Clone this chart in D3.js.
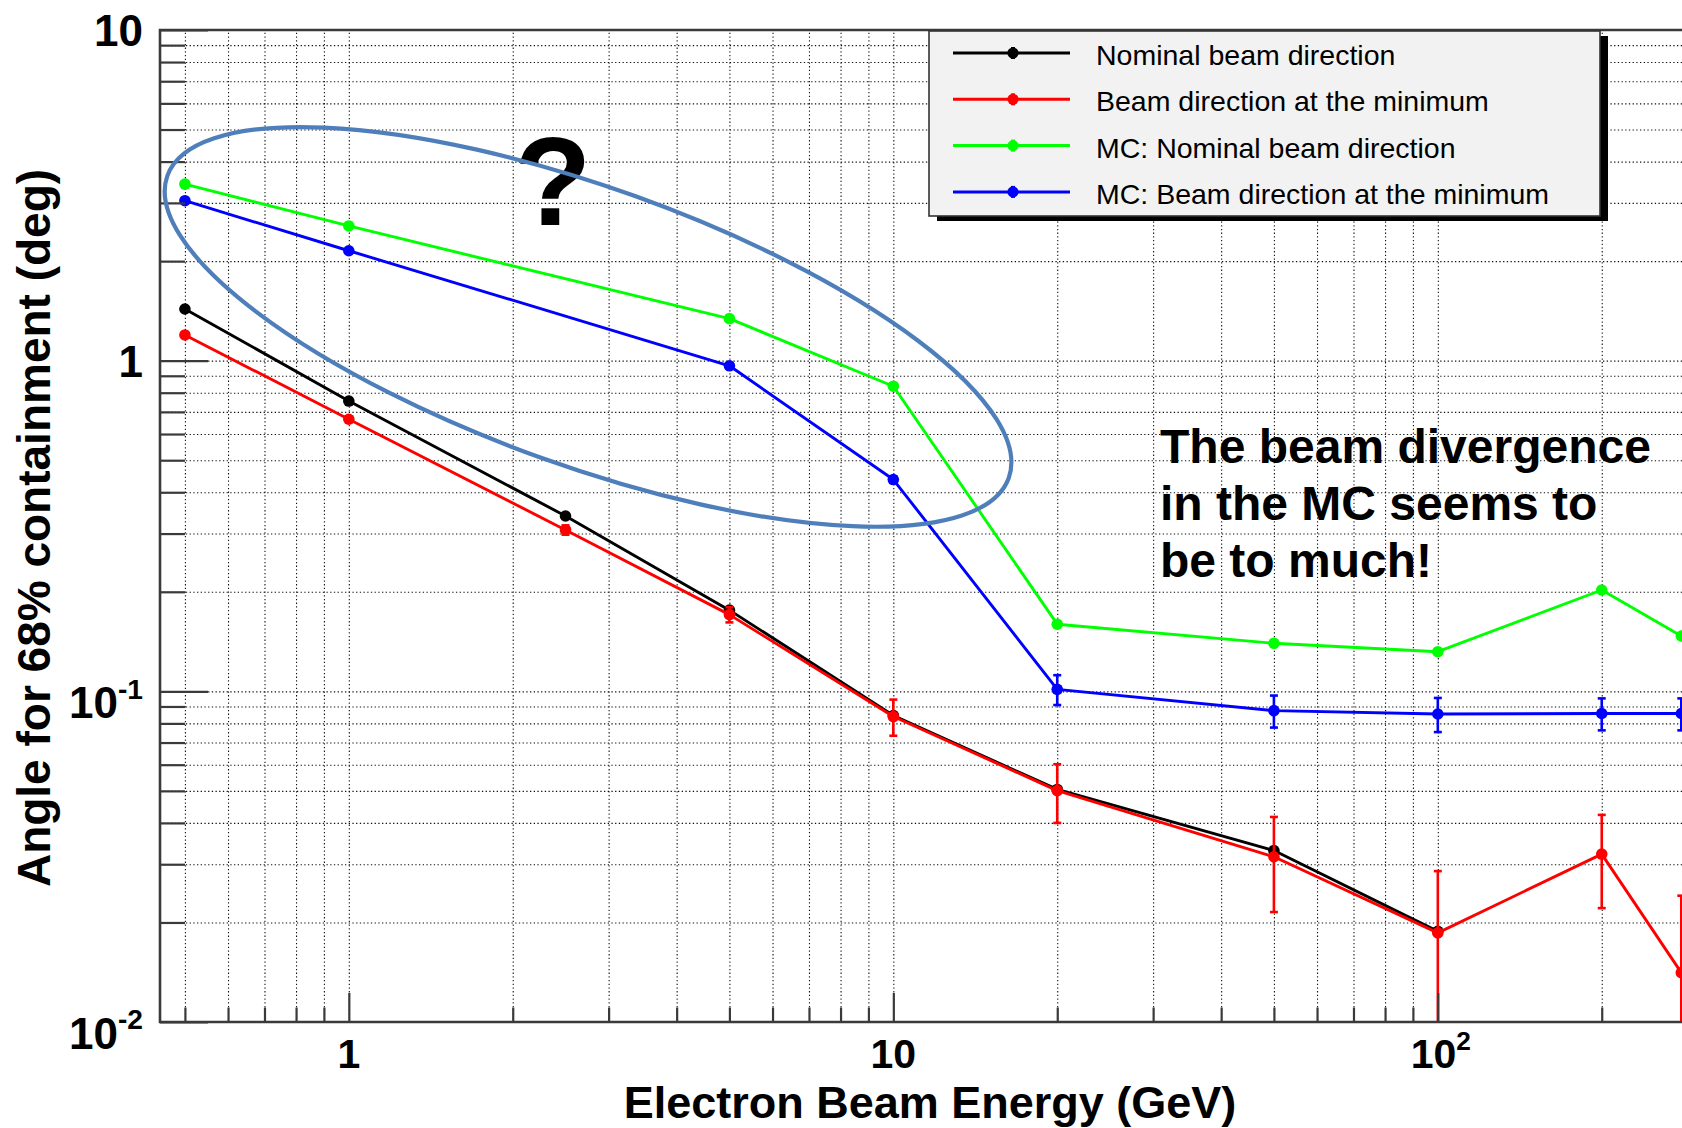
<!DOCTYPE html>
<html>
<head>
<meta charset="utf-8">
<script src="https://cdn.jsdelivr.net/npm/d3@7"></script>
<style>
  html, body { margin: 0; padding: 0; background: #ffffff; }
  svg { display: block; font-family: "Liberation Sans", Arial, Helvetica, sans-serif; }
</style>
</head>
<body>
<svg id="chart" width="1682" height="1128"></svg>
<script>
// ---- data: electron beam energy (GeV) and 68% containment angle (deg) ----
const beamEnergies = [0.5, 1, 2.5, 5, 10, 20, 50, 100, 200, 280];
const nominalAngle = [1.433, 0.755, 0.339, 0.176, 0.0845, 0.0505, 0.0330, 0.0188];
const nominalErr   = [0, 0, 0, 0, 0, 0, 0, 0];
const minimumAngle = [1.196, 0.665, 0.3076, 0.1706, 0.0839, 0.0501, 0.0316, 0.0186, 0.0322, 0.0141];
const minimumErr   = [0.01, 0.01, 0.01, 0.009, 0.0105, 0.0101, 0.0101, 0.01, 0.0101, 0.01];

const mcEnergies      = [0.5, 1, 5, 10, 20, 50, 100, 200, 280];
const mcNominalAngle  = [3.42, 2.555, 1.34, 0.837, 0.1596, 0.1397, 0.1318, 0.2025, 0.147];
const mcNominalErr    = [0, 0, 0, 0, 0, 0, 0, 0, 0];
const mcMinimumAngle  = [3.046, 2.15, 0.965, 0.437, 0.1014, 0.0874, 0.0854, 0.0857, 0.0857];
const mcMinimumErr    = [0.01, 0.01, 0.01, 0.01, 0.0105, 0.0097, 0.0101, 0.0095, 0.0095];

const seriesNames  = ["Nominal beam direction", "Beam direction at the minimum",
                      "MC: Nominal beam direction", "MC: Beam direction at the minimum"];
const seriesColors = ["#000000", "#ff0000", "#00ff00", "#0000ff"];

const xMajorTicks = [1, 10, 100];
const xTickBase   = ["1", "10", "10"];
const xTickSup    = ["", "", "2"];
const yMajorTicks = [0.01, 0.1, 1, 10];
const yTickBase   = ["10", "10", "1", "10"];
const yTickSup    = ["-2", "-1", "", ""];

const xTitle = "Electron Beam Energy (GeV)";
const yTitle = "Angle for 68% containment (deg)";
const noteLines = ["The beam divergence", "in the MC seems to", "be to much!"];

// ---- layout ----
const W = 1682, H = 1128;
const frame = { left: 160, top: 30, bottom: 1022 };
const xDecade = 544.5;
const xDomain = [0.45, 300];

const x = d3.scaleLog().domain(xDomain)
  .range([frame.left, frame.left + Math.log10(xDomain[1] / xDomain[0]) * xDecade]);
const y = d3.scaleLog().domain([0.01, 10]).range([frame.bottom, frame.top]);
const frameRight = x.range()[1];

const svg = d3.select("#chart");
svg.append("rect").attr("width", W).attr("height", H).attr("fill", "#fff");

svg.append("defs").append("clipPath").attr("id", "plotClip")
  .append("rect")
  .attr("x", frame.left).attr("y", frame.top)
  .attr("width", frameRight - frame.left).attr("height", frame.bottom - frame.top);

// ---- dotted grid at every decade subdivision ----
const xAll = x.ticks();
const yAll = y.ticks();
const grid = svg.append("g").attr("clip-path", "url(#plotClip)");
grid.append("g")
  .attr("transform", `translate(0,${frame.bottom})`)
  .call(d3.axisBottom(x).tickValues(xAll).tickSize(-(frame.bottom - frame.top)).tickFormat(""))
  .call(g => g.select(".domain").remove());
grid.append("g")
  .attr("transform", `translate(${frame.left},0)`)
  .call(d3.axisLeft(y).tickValues(yAll).tickSize(-(frameRight - frame.left)).tickFormat(""))
  .call(g => g.select(".domain").remove());
grid.selectAll(".tick line")
  .attr("stroke", "#111").attr("stroke-width", 1.1).attr("stroke-dasharray", "1.3,2.4");

// ---- series ----
const series = [
  { e: beamEnergies, v: nominalAngle, err: nominalErr },
  { e: beamEnergies, v: minimumAngle, err: minimumErr },
  { e: mcEnergies,   v: mcNominalAngle, err: mcNominalErr },
  { e: mcEnergies,   v: mcMinimumAngle, err: mcMinimumErr }
].map((s, i) => ({
  name: seriesNames[i], color: seriesColors[i],
  points: s.v.map((v, j) => ({ e: s.e[j], v, err: s.err[j] }))
}));

const plot = svg.append("g").attr("clip-path", "url(#plotClip)");
const line = d3.line().x(d => x(d.e)).y(d => y(d.v));
const yMin = y.domain()[0];

series.forEach(s => {
  const g = plot.append("g");
  g.append("path").datum(s.points)
    .attr("d", line).attr("fill", "none")
    .attr("stroke", s.color).attr("stroke-width", 2.9).attr("stroke-linejoin", "round");

  const bars = s.points.filter(d => d.err > 0);
  bars.forEach(d => {
    const hi = d.v + d.err;
    const lo = d.v - d.err;
    const yLo = lo > yMin ? y(lo) : y(yMin) + 4;
    g.append("line")
      .attr("x1", x(d.e)).attr("x2", x(d.e))
      .attr("y1", y(hi)).attr("y2", yLo)
      .attr("stroke", s.color).attr("stroke-width", 2.6);
    g.append("line")
      .attr("x1", x(d.e) - 4).attr("x2", x(d.e) + 4)
      .attr("y1", y(hi)).attr("y2", y(hi))
      .attr("stroke", s.color).attr("stroke-width", 2.6);
    if (lo > yMin) {
      g.append("line")
        .attr("x1", x(d.e) - 4).attr("x2", x(d.e) + 4)
        .attr("y1", y(lo)).attr("y2", y(lo))
        .attr("stroke", s.color).attr("stroke-width", 2.6);
    }
  });

  g.selectAll("circle").data(s.points).join("circle")
    .attr("cx", d => x(d.e)).attr("cy", d => y(d.v)).attr("r", 5.8)
    .attr("fill", s.color);
});

// ---- axes: frame lines, ticks, labels ----
const axisColor = "#3a3a3a";
const xMinor = xAll.filter(v => !xMajorTicks.includes(v));
const yMinor = yAll.filter(v => !yMajorTicks.includes(v));

const xAxisMinor = svg.append("g").attr("transform", `translate(0,${frame.bottom})`)
  .call(d3.axisBottom(x).tickValues(xMinor).tickSize(-14.5).tickSizeOuter(0).tickFormat(""));
const xAxisMajor = svg.append("g").attr("transform", `translate(0,${frame.bottom})`)
  .call(d3.axisBottom(x).tickValues(xMajorTicks).tickSize(-29).tickSizeOuter(0).tickFormat(""));
const yAxisMinor = svg.append("g").attr("transform", `translate(${frame.left},0)`)
  .call(d3.axisLeft(y).tickValues(yMinor).tickSize(-25).tickSizeOuter(0).tickFormat(""));
const yAxisMajor = svg.append("g").attr("transform", `translate(${frame.left},0)`)
  .call(d3.axisLeft(y).tickValues(yMajorTicks).tickSize(-48).tickSizeOuter(0).tickFormat(""));
[xAxisMinor, xAxisMajor, yAxisMinor, yAxisMajor].forEach(g => {
  g.select(".domain").remove();
  g.selectAll(".tick line").attr("stroke", axisColor).attr("stroke-width", 2.2);
});

// frame: left, bottom and top edges
svg.append("path")
  .attr("d", `M${frameRight},${frame.top}H${frame.left}V${frame.bottom}H${frameRight}`)
  .attr("fill", "none").attr("stroke", axisColor).attr("stroke-width", 2.6);

// tick labels with optional exponent
function powerLabel(sel, base, sup, fontSize) {
  sel.append("tspan").text(base);
  if (sup) {
    sel.append("tspan").attr("dy", -fontSize * 0.45).attr("font-size", fontSize * 0.64).text(sup);
  }
}
const labelSize = 44;
const xLabelSize = 41;
xMajorTicks.forEach((v, i) => {
  const t = svg.append("text")
    .attr("x", x(v) + (xTickSup[i] ? 3 : 0)).attr("y", frame.bottom + 46)
    .attr("text-anchor", "middle").attr("font-weight", "bold")
    .attr("font-size", xLabelSize).attr("fill", "#000");
  powerLabel(t, xTickBase[i], xTickSup[i], xLabelSize);
});
yMajorTicks.forEach((v, i) => {
  const t = svg.append("text")
    .attr("x", 143).attr("y", y(v) + (yTickSup[i] ? 27 : 16))
    .attr("text-anchor", "end").attr("font-weight", "bold")
    .attr("font-size", labelSize).attr("fill", "#000");
  powerLabel(t, yTickBase[i], yTickSup[i], labelSize);
});

// axis titles
svg.append("text")
  .attr("x", 930).attr("y", 1118)
  .attr("text-anchor", "middle").attr("font-weight", "bold").attr("font-size", 45)
  .text(xTitle);
svg.append("text")
  .attr("transform", `translate(50,528) rotate(-90)`)
  .attr("text-anchor", "middle").attr("font-weight", "bold").attr("font-size", 46)
  .text(yTitle);

// ---- legend ----
const leg = { x: 929, y: 31, w: 671, h: 185, rowTop: 53, rowStep: 46.3 };
svg.append("rect")
  .attr("x", leg.x + 8).attr("y", leg.y + 5).attr("width", leg.w).attr("height", leg.h)
  .attr("fill", "#000");
svg.append("rect")
  .attr("x", leg.x).attr("y", leg.y).attr("width", leg.w).attr("height", leg.h)
  .attr("fill", "#f2f2f2").attr("stroke", "#333").attr("stroke-width", 1.6);
series.forEach((s, i) => {
  const cy = leg.rowTop + i * leg.rowStep;
  const row = svg.append("g");
  row.append("line")
    .attr("x1", leg.x + 24).attr("x2", leg.x + 141).attr("y1", cy).attr("y2", cy)
    .attr("stroke", s.color).attr("stroke-width", 3);
  row.append("line")
    .attr("x1", leg.x + 84).attr("x2", leg.x + 84).attr("y1", cy - 6).attr("y2", cy + 6)
    .attr("stroke", s.color).attr("stroke-width", 4);
  row.append("circle")
    .attr("cx", leg.x + 84).attr("cy", cy).attr("r", 5.6).attr("fill", s.color);
  row.append("text")
    .attr("x", leg.x + 167).attr("y", cy + 12)
    .attr("font-size", 28.5).attr("fill", "#000")
    .text(s.name);
});

// ---- annotations ----
svg.append("g").selectAll("text").data(noteLines).join("text")
  .attr("x", 1160).attr("y", (d, i) => 463 + i * 57)
  .attr("font-size", 48).attr("font-weight", "bold").attr("fill", "#000")
  .text(d => d);

svg.append("text")
  .attr("x", 553).attr("y", 225)
  .attr("text-anchor", "middle").attr("font-size", 126).attr("font-weight", "bold")
  .attr("fill", "#000").text("?");

// highlight ring around the MC curves at low energy
const ringCenter = { e: 2.75, v: 1.265 };
svg.append("ellipse")
  .attr("cx", 0).attr("cy", 0).attr("rx", 447).attr("ry", 139)
  .attr("transform", `translate(${x(ringCenter.e)},${y(ringCenter.v)}) rotate(19.75)`)
  .attr("fill", "none").attr("stroke", "#4f7fbb").attr("stroke-width", 4.2);
</script>
</body>
</html>
